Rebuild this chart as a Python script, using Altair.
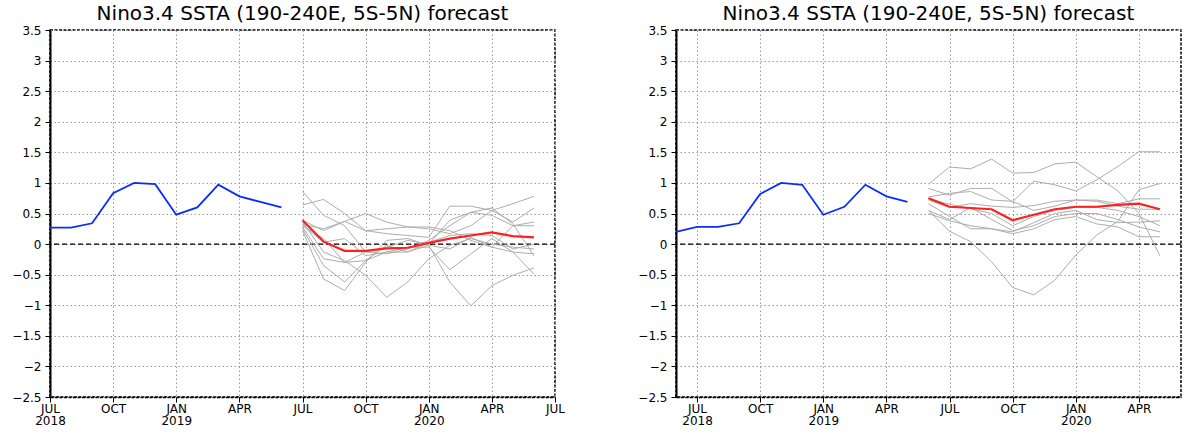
import altair as alt
import pandas as pd

TITLE = "Nino3.4 SSTA (190-240E, 5S-5N) forecast"

# month index m: 0 = JUN 2018, 1 = JUL 2018, ...
Y_TICKS = [-2.5, -2, -1.5, -1, -0.5, 0, 0.5, 1, 1.5, 2, 2.5, 3, 3.5]

# ---------------- left panel ----------------
left_obs_m = list(range(1, 13))          # JUL 2018 .. JUN 2019
left_obs = [0.27, 0.27, 0.34, 0.83, 1.00, 0.98, 0.48, 0.60, 0.97, 0.78, 0.69, 0.60]
left_fc_m = list(range(13, 25))          # JUL 2019 .. JUN 2020
left_mean = [0.39, 0.04, -0.11, -0.11, -0.07, -0.06, 0.02, 0.09, 0.14, 0.19, 0.13, 0.11]
left_members = [
    [0.86, 0.47, 0.30, -0.13, -0.05, 0.06, 0.00, 0.39, 0.52, 0.59, 0.33, -0.19],
    [0.64, 0.73, 0.50, 0.22, 0.17, 0.14, 0.11, 0.62, 0.62, 0.55, 0.66, 0.78],
    [0.32, 0.25, 0.37, 0.50, 0.36, 0.28, 0.25, 0.17, 0.30, 0.55, 0.36, 0.59],
    [0.30, 0.09, -0.30, -0.13, -0.16, -0.08, 0.06, 0.30, 0.52, 0.47, 0.30, 0.30],
    [0.25, -0.35, -0.62, -0.27, -0.13, -0.05, -0.05, -0.42, -0.16, 0.09, -0.13, -0.49],
    [0.22, -0.57, -0.76, -0.30, 0.06, 0.09, -0.02, -0.08, 0.11, -0.05, 0.30, 0.36],
    [0.36, -0.13, -0.27, -0.51, -0.87, -0.62, -0.24, -0.02, 0.09, 0.00, -0.05, -0.08],
    [0.28, -0.24, -0.30, -0.27, -0.02, -0.13, -0.02, -0.62, -1.01, -0.68, -0.51, -0.39],
    [0.31, 0.03, 0.09, -0.19, -0.13, -0.13, 0.03, 0.14, 0.17, 0.14, -0.08, 0.00],
    [0.39, 0.22, 0.37, 0.22, 0.25, 0.28, 0.28, 0.22, 0.06, -0.05, -0.13, -0.16],
]
left_ticks = [1, 4, 7, 10, 13, 16, 19, 22, 25]

# ---------------- right panel ----------------
right_obs_m = list(range(0, 12))         # JUN 2018 .. MAY 2019
right_obs = [0.20, 0.28, 0.28, 0.34, 0.82, 1.00, 0.97, 0.48, 0.61, 0.97, 0.78, 0.69]
right_fc_m = list(range(12, 24))         # JUN 2019 .. MAY 2020
right_mean = [0.75, 0.61, 0.59, 0.57, 0.39, 0.48, 0.57, 0.61, 0.61, 0.64, 0.66, 0.57]
right_members = [
    [0.98, 1.26, 1.23, 1.39, 1.16, 1.17, 1.31, 1.34, 1.10, 0.87, 0.50, -0.19],
    [0.91, 0.80, 0.91, 0.91, 0.69, 1.03, 0.97, 0.87, 1.05, 1.27, 1.51, 1.51],
    [0.55, 0.21, 0.04, -0.29, -0.71, -0.83, -0.59, -0.18, 0.15, 0.37, 0.89, 0.99],
    [0.77, 0.83, 0.86, 0.72, 0.70, 0.55, 0.62, 0.72, 0.72, 0.66, 0.74, 0.74],
    [0.72, 0.60, 0.66, 0.62, 0.60, 0.63, 0.70, 0.72, 0.70, 0.62, 0.57, 0.57],
    [0.66, 0.45, 0.25, 0.25, 0.20, 0.35, 0.50, 0.55, 0.40, 0.35, 0.36, 0.38],
    [0.55, 0.40, 0.60, 0.40, 0.22, 0.30, 0.45, 0.50, 0.50, 0.40, 0.28, 0.20],
    [0.50, 0.38, 0.30, 0.25, 0.17, 0.25, 0.40, 0.45, 0.33, 0.28, 0.12, 0.12],
    [0.75, 0.65, 0.58, 0.50, 0.30, 0.45, 0.55, 0.60, 0.60, 0.55, 0.45, 0.30],
]
right_ticks = [1, 4, 7, 10, 13, 16, 19, 22]

MONTH_ARR = "['JAN','FEB','MAR','APR','MAY','JUN','JUL','AUG','SEP','OCT','NOV','DEC']"
LABEL_EXPR = (
    "(datum.value % 12 == 7 || datum.value == 1) ? "
    f"[{MONTH_ARR}[(5 + datum.value) % 12], '' + (2018 + floor((5 + datum.value) / 12))] : "
    f"{MONTH_ARR}[(5 + datum.value) % 12]"
)


def panel(obs_m, obs, fc_m, mean, members, x0, x1, ticks, title_offset):
    obs_df = pd.DataFrame({"m": obs_m, "v": obs})
    mean_df = pd.DataFrame({"m": fc_m, "v": mean})
    mem_df = pd.concat(
        [pd.DataFrame({"m": fc_m, "v": mv, "member": i}) for i, mv in enumerate(members)],
        ignore_index=True,
    )
    zero_df = pd.DataFrame({"v": [0.0]})

    x = alt.X(
        "m:Q",
        scale=alt.Scale(domain=[x0, x1], nice=False, zero=False),
        axis=alt.Axis(values=ticks, labelExpr=LABEL_EXPR, title=None, grid=True,
                      labelAlign="center", labelBaseline="top", labelPadding=1,
                      labelLineHeight=12),
    )
    y = alt.Y(
        "v:Q",
        scale=alt.Scale(domain=[-2.5, 3.5], nice=False, zero=False),
        axis=alt.Axis(values=Y_TICKS, format="~g", title=None, grid=True),
    )

    zero = alt.Chart(zero_df).mark_rule(
        color="black", strokeDash=[5, 3], strokeWidth=1.3
    ).encode(y=y)
    grey = alt.Chart(mem_df).mark_line(color="#adadad", strokeWidth=1).encode(
        x=x, y=y, detail="member:N"
    )
    red = alt.Chart(mean_df).mark_line(color="#ff2020", strokeWidth=2.2).encode(x=x, y=y)
    blue = alt.Chart(obs_df).mark_line(color="#0a2cff", strokeWidth=1.8).encode(x=x, y=y)

    return alt.layer(zero, grey, red, blue).properties(
        width=505,
        height=367,
        title=alt.Title(TITLE, font="DejaVu Sans", fontSize=20, fontWeight="normal",
                        color="black", offset=title_offset, anchor="middle"),
    )


left = panel(left_obs_m, left_obs, left_fc_m, left_mean, left_members, 1, 25, left_ticks, 0)
right = panel(right_obs_m, right_obs, right_fc_m, right_mean, right_members, 0, 24, right_ticks, 0)

chart = (
    alt.hconcat(left, right, spacing=121, bounds="flush")
    .properties(padding={"left": 11, "top": 3, "right": 5, "bottom": 5}, background="white")
    .configure_view(stroke="black", strokeDash=[3, 1.5], strokeWidth=1.5)
    .configure_axis(
        labelFont="DejaVu Sans",
        labelFontSize=12,
        labelColor="black",
        tickColor="black",
        tickSize=5,
        tickWidth=1,
        gridColor="#9a9a9a",
        gridDash=[1.5, 2.5],
        gridWidth=1,
        domainColor="black",
    )
    .configure_axisY(domainWidth=2, labelPadding=4)
    .configure_axisX(domainWidth=1.5, domainDash=[3, 1.5])
)

chart.save("out.html", embed_options={"renderer": "svg", "actions": False})
